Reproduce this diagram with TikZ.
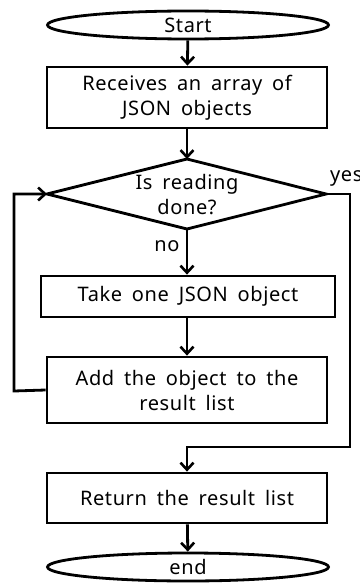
\documentclass[tikz,border=0pt]{standalone}
\usepackage{fontspec}
\setmainfont{Noto Sans}[LetterSpace=3,WordSpace=1.7]
\usetikzlibrary{shapes.geometric,arrows.meta}
\begin{document}
\begin{tikzpicture}[x=1pt,y=-1pt,
  every node/.style={font=\fontsize{20}{25}\selectfont, inner sep=0pt, align=center},
  terminal/.style={ellipse, draw, line width=2.8pt, minimum width=281pt, minimum height=28pt},
  process/.style={rectangle, draw, line width=2.8pt, minimum width=280pt},
  flow/.style={line width=2.8pt, -{Straight Barb[length=7pt,width=13pt,line width=2.6pt]}},
  edge/.style={line width=2.8pt, line join=miter}]
  \useasboundingbox (0,0) rectangle (359,583);
  \node[terminal] (start) at (188,25) {Start};
  \node[process, minimum height=61pt] (recv) at (187,97.5) {Receives an array of\\JSON objects};
  % decision diamond: corners as coordinates, text in the middle
  \coordinate (dtop) at (187,159);
  \coordinate (dleft) at (47,194);
  \coordinate (dright) at (326,194);
  \coordinate (dbot) at (187,229);
  \draw[edge] (dtop) -- (dright) -- (dbot) -- (dleft) -- cycle;
  \node (done) at (187,195) {Is reading\\done?};
  \node[process, minimum width=294pt, minimum height=41pt] (take) at (188,296.5) {Take one JSON object};
  \node[process, minimum height=66pt] (add) at (187,390) {Add the object to the\\result list};
  \node[process, minimum height=50pt] (ret) at (187,498) {Return the result list};
  \node[terminal] (end) at (188,567) {end};
  \node (no) at (167,246) {no};
  \node[anchor=west] (yes) at (330,178) {yes};
  \coordinate (ra) at (350,194);
  \coordinate (rb) at (350,447);
  \coordinate (rc) at (187,447);
  \coordinate (la) at (14,391);
  \coordinate (lb) at (14,194);
  \draw[flow] (start) -- (recv);
  \draw[flow] (recv) -- (dtop);
  \draw[flow] (dbot) -- (take.north -| dbot);
  \draw[flow] (take.south -| add.north) -- (add);
  \draw[flow] (ret) -- (end);
  \draw[flow] (dright) -- (ra) -- (rb) -- (rc) -- (ret.north);
  \draw[flow] (add.west) -- (la) -- (lb) -- (dleft);
\end{tikzpicture}
\end{document}
